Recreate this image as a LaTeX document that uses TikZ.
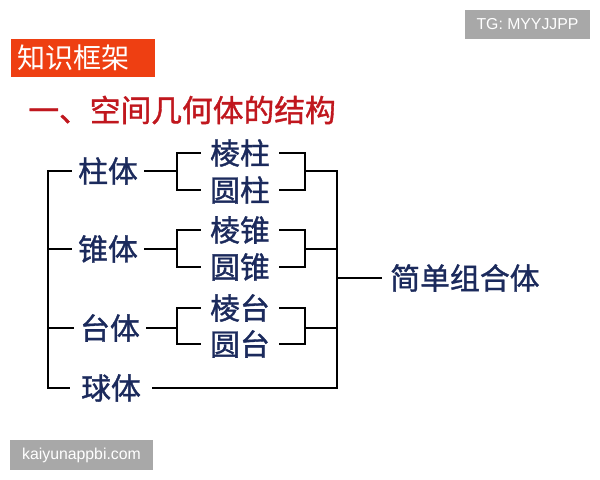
\documentclass[tikz,border=0pt]{standalone}
\usepackage{fontspec}
\usepackage{tikz}
\newfontfamily\cjk{Noto Sans CJK SC}
\newfontfamily\cjkheavy{Noto Sans CJK SC}[FakeBold=1.2]
\newfontfamily\wmfont{Liberation Sans}
\definecolor{headred}{HTML}{EE3F12}
\definecolor{titlered}{HTML}{C0171E}
\definecolor{inknavy}{HTML}{1B2A5C}
\definecolor{wmgray}{HTML}{A8A8A8}
\tikzset{
    x=0.02cm, y=-0.02cm, % one unit = one pixel of the 600x480 page
    ti/.style={text=inknavy, font=\cjkheavy\fontsize{17}{17}\selectfont, inner xsep=3.5pt, inner ysep=1pt},
    sub/.style={ti, inner xsep=5pt},
    wmark/.style={fill=wmgray, text=white, font=\wmfont\fontsize{9}{9}\selectfont}
}

\begin{document}
\begin{tikzpicture}
    \useasboundingbox (0,0) rectangle (600,480);
    \draw
        node (tg) [wmark, minimum width=2.5cm, minimum height=0.58cm] at (527.5,24.5) {TG: MYYJJPP}
        node (site) [wmark, minimum width=2.86cm, minimum height=0.6cm] at (81.5,455) {kaiyunappbi.com}
        node (head) [fill=headred, text=white, anchor=west, inner xsep=3.4pt, text width=2.64cm,
            align=left, minimum height=0.72cm, font=\cjk\fontsize{16}{16}\selectfont] at (11,58) {知识框架}
        node (title) [text=titlered, anchor=west, inner sep=0pt,
            font=\cjkheavy\fontsize{17.5}{17.5}\selectfont] at (28,110) {一、空间几何体的结构}
    ;
    % left column
    \draw
        node (zhuti) [ti] at (108,171) {柱体}
        node (zhuiti) [ti] at (108,249) {锥体}
        node (taiti) [ti] at (110,328) {台体}
        node (qiuti) [ti, inner xsep=6pt] at (111,388) {球体}
    ;
    % middle column
    \draw
        node (lengzhu) [sub] at (240,153) {棱柱}
        node (yuanzhu) [sub] at (240,190) {圆柱}
        node (lengzhui) [sub] at (240,230) {棱锥}
        node (yuanzhui) [sub] at (240,267) {圆锥}
        node (lengtai) [sub] at (240,308) {棱台}
        node (yuantai) [sub] at (240,344) {圆台}
        node (zuhe) [ti, anchor=west, inner xsep=4.5pt] at (382,278) {简单组合体}
    ;
    \coordinate (lx) at (48,0);
    \coordinate (bzhu) at (177,171);
    \coordinate (bzhui) at (177,249);
    \coordinate (btai) at (177,328);
    \coordinate (rzhu) at (305,171);
    \coordinate (rzhui) at (305,249);
    \coordinate (rtai) at (305,328);
    \coordinate (mtop) at (337,171);
    \coordinate (mout) at (337,278);

    \draw
        [line width=1.1pt]
        (zhuti.west) -- (zhuti.west -| lx) |- (qiuti.west)
        (zhuiti.west) -- (zhuiti.west -| lx)
        (taiti.west) -- (taiti.west -| lx)
        (zhuti.east) -- (bzhu)
        (zhuiti.east) -- (bzhui)
        (taiti.east) -- (btai)
        (lengzhu.west) -| (bzhu) |- (yuanzhu.west)
        (lengzhui.west) -| (bzhui) |- (yuanzhui.west)
        (lengtai.west) -| (btai) |- (yuantai.west)
        (lengzhu.east) -| (rzhu) |- (yuanzhu.east)
        (lengzhui.east) -| (rzhui) |- (yuanzhui.east)
        (lengtai.east) -| (rtai) |- (yuantai.east)
        (rzhu) -- (mtop) |- (qiuti.east)
        (rzhui) -- (rzhui -| mtop)
        (rtai) -- (rtai -| mtop)
        (mout) -- (zuhe.west)
    ;
\end{tikzpicture}
\end{document}
